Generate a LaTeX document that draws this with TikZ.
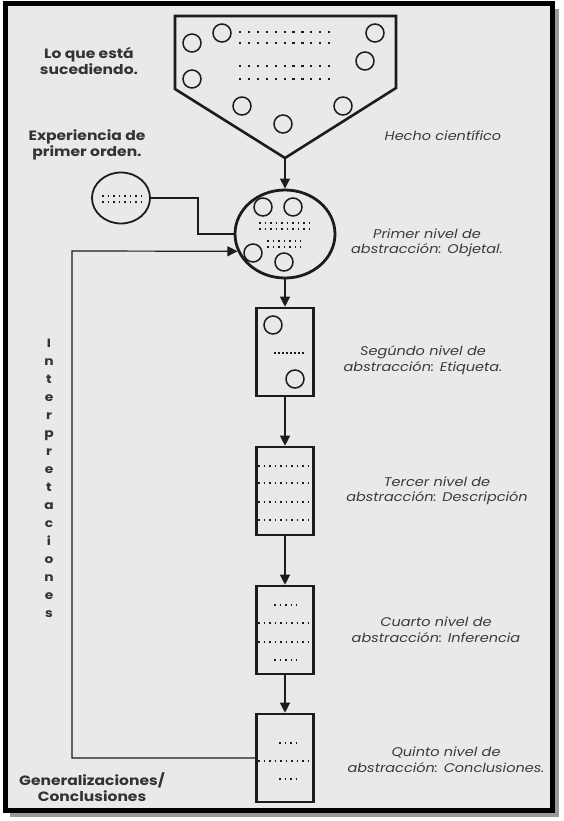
\documentclass[tikz,border=0pt]{standalone}
\usepackage{fontspec}
\setmainfont{Poppins}
\newfontfamily\gothic[FakeStretch=1.15]{Poppins}
\usetikzlibrary{arrows.meta,positioning,shapes.geometric,calc}
\definecolor{paper}{HTML}{E9E9E9}
\definecolor{ink}{HTML}{1C1C1C}
\definecolor{soft}{HTML}{3A3A3A}

\begin{document}
\begin{tikzpicture}[x=1pt, y=-1pt,
  level/.style={draw=ink, line width=2.6pt, minimum width=57pt,
    minimum height=88pt, inner sep=0pt},
  spot/.style={draw=ink, line width=1.5pt, circle, minimum size=18pt,
    inner sep=0pt},
  link/.style={draw=ink, line width=1.2pt},
  arr/.style={link, -{Triangle[width=10pt,length=10pt]}},
  bigdots/.style={ink, line width=2.2pt, dash pattern=on 2.2pt off 6.7pt},
  dots/.style={ink, line width=1.7pt, dash pattern=on 1.7pt off #1},
  dots/.default=3.8pt,
  side/.style={font=\gothic\bfseries\fontsize{13.5}{16.5}\selectfont,
    text=ink!90, align=center},
  note/.style={font=\gothic\itshape\fontsize{12.6}{15.5}\selectfont,
    text=soft, align=center},
]
  % Frame
  \useasboundingbox (0,0) rectangle (563,821);
  \fill[white] (0,0) rectangle (563,821);
  \fill[black!40] (10,9) rectangle (559,817);
  \draw[fill=paper, line width=5pt] (5,4) rectangle (552,810);

  % Hecho cientifico
  \draw[ink, line width=2.6pt, line join=miter]
    (175,16) -- (396,16) -- (396,88) -- (285,158) coordinate (tip)
    -- (175,89) -- cycle;
  \foreach \p [count=\i] in {(222,33),(192,43),(192,79),(375,33),
      (365,61),(242,106),(283,124),(343,106)}{
    \node[spot] (h\i) at \p {};
  }
  \foreach \y in {32,43,66,79}{
    \draw[bigdots] (239,\y) -- ++(92.2,0);
  }
  \node[side] (what) at (89,61) {Lo que está\\sucediendo.};
  \node[note] (fact) at (443,136) {Hecho científico};

  % Experiencia de primer orden
  \node[side] (first) at (87,145) {Experiencia de\\primer orden.};
  \node[draw=ink, line width=1.8pt, ellipse, minimum width=58pt,
    minimum height=51pt, inner sep=0pt] (exp) at (121,198) {};
  \foreach \y in {196,202}{
    \draw[dots] (102,\y) -- ++(39.5,0);
  }

  % Primer nivel
  \node[draw=ink, line width=2.8pt, ellipse, minimum width=100pt,
    minimum height=88pt, inner sep=0pt] (lvl1) at (285,234) {};
  \foreach \p [count=\i] in {(263,207),(293,207),(253,253),(284,262)}{
    \node[spot] (o\i) at \p {};
  }
  \foreach \y in {223,229}{
    \draw[dots] (259,\y) -- ++(50.3,0);
  }
  \foreach \y in {241,247}{
    \draw[dots] (267,\y) -- ++(34.1,0);
  }
  \node[note] (n1) at (427,243) {Primer nivel de\\abstracción: Objetal.};

  % Segundo nivel
  \node[level] (lvl2) at (285,352) {};
  \node[spot] (e1) at (273,325) {};
  \node[spot] (e2) at (295,379) {};
  \draw[dots=2.3pt] (274,353) -- ++(29.7,0);
  \node[note] (n2) at (423,360) {Segúndo nivel de\\abstracción: Etiqueta.};

  % Tercer nivel
  \node[level] (lvl3) at (285,491) {};
  \foreach \y in {466,483,502,520}{
    \draw[dots] (258,\y) -- ++(51.2,0);
  }
  \node[note] (n3) at (437,491) {Tercer nivel de\\abstracción: Descripción};

  % Cuarto nivel
  \node[level] (lvl4) at (285,630) {};
  \foreach \y in {605,660}{
    \draw[dots] (274,\y) -- ++(23.3,0);
  }
  \foreach \y in {623,642}{
    \draw[dots] (258,\y) -- ++(51.2,0);
  }
  \node[note] (n4) at (436,630) {Cuarto nivel de\\abstracción: Inferencia};

  % Quinto nivel
  \node[level] (lvl5) at (285,758) {};
  \foreach \y in {743,779}{
    \draw[dots] (279,\y) -- ++(17.9,0);
  }
  \draw[dots] (258,761) -- ++(51.2,0);
  \node[note] (n5) at (446,760) {Quinto nivel de\\abstracción: Conclusiones.};
  \node[side] (gen) at (92,787) {Generalizaciones/\\Conclusiones};

  % Interpretaciones
  \node[font=\gothic\bfseries\fontsize{12}{18}\selectfont, text=ink!90,
    align=center] (interp) at (49,478)
    {I\\n\\t\\e\\r\\p\\r\\e\\t\\a\\c\\i\\o\\n\\e\\s};

  % Connectors
  \coordinate (j1) at (198,198);
  \coordinate (fb) at (72,251);
  \draw[arr] (tip) -- (lvl1.north);
  \draw[link] (exp.east) -- (j1) |- (lvl1.west);
  \draw[arr] (lvl1.south) -- (lvl2.north);
  \draw[arr] (lvl2.south) -- (lvl3.north);
  \draw[arr] (lvl3.south) -- (lvl4.north);
  \draw[arr] (lvl4.south) -- (lvl5.north);
  \draw[arr] (lvl5.west) -| (fb) -- (lvl1.200);
\end{tikzpicture}
\end{document}
